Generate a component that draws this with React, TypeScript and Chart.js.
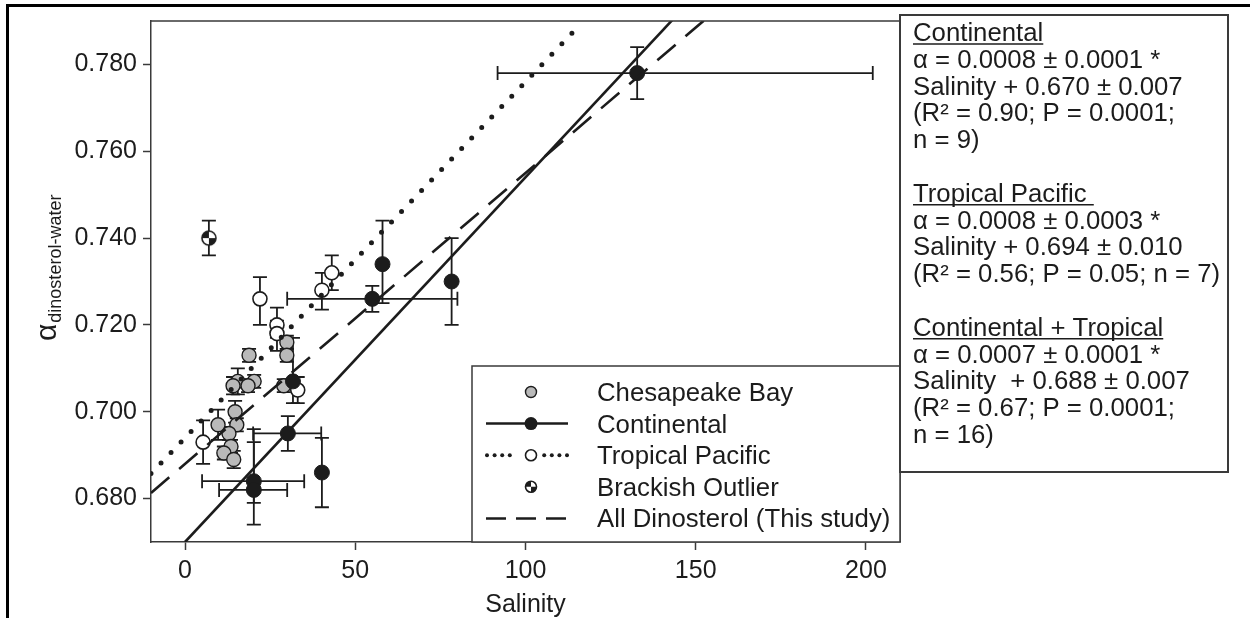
import { useEffect, useRef } from "react";
import { Chart, registerables } from "chart.js";

Chart.register(...registerables);

const FONT = '"Liberation Sans", Arial, Helvetica, sans-serif';
const INK = "#1c1c1c";
const FRAME = "#3a3a3a";
const GRAY = "#b9b9b9";
const TEXT_STRETCH = 1.03;

// Axis ranges and ticks
const salinityMin = -10;
const salinityMax = 210;
const alphaMin = 0.67;
const alphaMax = 0.79;
const salinityTicks = [0, 50, 100, 150, 200];
const alphaTicks = [0.68, 0.7, 0.72, 0.74, 0.76, 0.78];
const alphaTickLabels = ["0.680", "0.700", "0.720", "0.740", "0.760", "0.780"];

// Chesapeake Bay samples
const chesapeakeSalinity = [18.8, 29.9, 29.9, 15.5, 20.3, 14.1, 18.5, 29.0, 14.7, 9.7, 15.2, 12.9, 13.5, 11.4, 14.3];
const chesapeakeAlpha = [0.713, 0.716, 0.713, 0.707, 0.707, 0.706, 0.706, 0.706, 0.7, 0.697, 0.697, 0.695, 0.692, 0.6905, 0.689];
const chesapeakeAlphaErr = [0.0015, 0.0015, 0.0015, 0.003, 0.0015, 0.002, 0.0015, 0.0015, 0.0025, 0.0035, 0.0015, 0.0015, 0.0015, 0.0015, 0.002];

// Continental lakes
const continentalSalinity = [132.8, 58, 78.3, 55, 31.7, 30.2, 20.2, 20.2, 40.2];
const continentalAlpha = [0.778, 0.734, 0.73, 0.726, 0.707, 0.695, 0.684, 0.682, 0.686];
const continentalAlphaLow = [0.772, 0.725, 0.72, 0.723, 0.702, 0.691, 0.674, 0.679, 0.678];
const continentalAlphaHigh = [0.784, 0.744, 0.74, 0.729, 0.717, 0.699, 0.696, 0.693, 0.694];
const continentalSalinityLow = [91.8, null, null, 30, null, 20, 5, 10, null];
const continentalSalinityHigh = [202, null, null, 80, null, 40, 35, 30, null];

// Tropical Pacific
const tropicalSalinity = [43.1, 40.2, 22, 27, 27, 33.1, 5.3];
const tropicalAlpha = [0.732, 0.728, 0.726, 0.72, 0.718, 0.705, 0.693];
const tropicalAlphaLow = [0.728, 0.7235, 0.72, 0.717, 0.714, 0.702, 0.688];
const tropicalAlphaHigh = [0.736, 0.732, 0.731, 0.724, 0.721, 0.708, 0.698];

// Brackish outlier
const brackishSalinity = [7];
const brackishAlpha = [0.74];
const brackishAlphaLow = [0.736];
const brackishAlphaHigh = [0.744];

// Regression fits: slope, intercept, drawn salinity extent
const continentalFit = [0.00084, 0.67];
const continentalExtent = [0, 150];
const tropicalFit = [0.00082, 0.694];
const tropicalExtent = [-10, 114.5];
const allFit = [0.00067, 0.688];
const allExtent = [-10, 160];

// Legend and statistics text
const legendLabels = ["Chesapeake Bay", "Continental", "Tropical Pacific", "Brackish Outlier", "All Dinosterol (This study)"];
const statHeaders = ["Continental", "Tropical Pacific ", "Continental + Tropical"];
const statBodies = [
  ["α = 0.0008 ± 0.0001 *", "Salinity + 0.670 ± 0.007", "(R² = 0.90; P = 0.0001;", "n = 9)"],
  ["α = 0.0008 ± 0.0003 *", "Salinity + 0.694 ± 0.010", "(R² = 0.56; P = 0.05; n = 7)"],
  ["α = 0.0007 ± 0.0001 *", "Salinity  + 0.688 ± 0.007", "(R² = 0.67; P = 0.0001;", "n = 16)"],
];
const statBlockStartRows = [0, 6, 11];

const zip = (xs: number[], ys: number[]) => xs.map((x, i) => ({ x, y: ys[i] }));
const fitLine = (fit: number[], ext: number[]) => ext.map((s) => ({ x: s, y: fit[1] + fit[0] * s }));

function stretchedText(g: CanvasRenderingContext2D, t: string, x: number, y: number) {
  g.save();
  g.translate(x, y);
  g.scale(TEXT_STRETCH, 1);
  g.fillText(t, 0, 0);
  g.restore();
  return g.measureText(t).width * TEXT_STRETCH;
}

function drawQuarterMarker(g: CanvasRenderingContext2D, cx: number, cy: number, r: number) {
  g.save();
  g.fillStyle = "#fff";
  g.beginPath();
  g.arc(cx, cy, r, 0, Math.PI * 2);
  g.fill();
  g.fillStyle = INK;
  g.beginPath();
  g.moveTo(cx, cy);
  g.arc(cx, cy, r, Math.PI, Math.PI * 1.5);
  g.closePath();
  g.fill();
  g.beginPath();
  g.moveTo(cx, cy);
  g.arc(cx, cy, r, 0, Math.PI * 0.5);
  g.closePath();
  g.fill();
  g.strokeStyle = INK;
  g.lineWidth = 1.6;
  g.beginPath();
  g.arc(cx, cy, r, 0, Math.PI * 2);
  g.stroke();
  g.restore();
}

function makeQuarterMarker(r: number) {
  const size = Math.ceil(r * 2 + 4);
  const c = document.createElement("canvas");
  c.width = size;
  c.height = size;
  const g = c.getContext("2d")!;
  drawQuarterMarker(g, size / 2, size / 2, r);
  return c;
}

const errorBarPlugin = {
  id: "errorBars",
  beforeDatasetsDraw(chart: any) {
    const { ctx, chartArea, scales } = chart;
    const xs = scales.x;
    const ys = scales.y;
    const cap = 7;
    ctx.save();
    ctx.beginPath();
    ctx.rect(chartArea.left, chartArea.top, chartArea.right - chartArea.left, chartArea.bottom - chartArea.top);
    ctx.clip();
    ctx.strokeStyle = INK;
    ctx.lineWidth = 1.8;
    const vbar = (s: number, lo: number, hi: number) => {
      const px = xs.getPixelForValue(s);
      const y1 = ys.getPixelForValue(lo);
      const y2 = ys.getPixelForValue(hi);
      ctx.beginPath();
      ctx.moveTo(px, y1);
      ctx.lineTo(px, y2);
      ctx.moveTo(px - cap, y1);
      ctx.lineTo(px + cap, y1);
      ctx.moveTo(px - cap, y2);
      ctx.lineTo(px + cap, y2);
      ctx.stroke();
    };
    const hbar = (a: number, lo: number, hi: number) => {
      const py = ys.getPixelForValue(a);
      const x1 = xs.getPixelForValue(lo);
      const x2 = xs.getPixelForValue(hi);
      ctx.beginPath();
      ctx.moveTo(x1, py);
      ctx.lineTo(x2, py);
      ctx.moveTo(x1, py - cap);
      ctx.lineTo(x1, py + cap);
      ctx.moveTo(x2, py - cap);
      ctx.lineTo(x2, py + cap);
      ctx.stroke();
    };
    chesapeakeSalinity.forEach((s, i) =>
      vbar(s, chesapeakeAlpha[i] - chesapeakeAlphaErr[i], chesapeakeAlpha[i] + chesapeakeAlphaErr[i])
    );
    tropicalSalinity.forEach((s, i) => vbar(s, tropicalAlphaLow[i], tropicalAlphaHigh[i]));
    brackishSalinity.forEach((s, i) => vbar(s, brackishAlphaLow[i], brackishAlphaHigh[i]));
    continentalSalinity.forEach((s, i) => {
      vbar(s, continentalAlphaLow[i], continentalAlphaHigh[i]);
      const lo = continentalSalinityLow[i];
      const hi = continentalSalinityHigh[i];
      if (lo != null && hi != null) hbar(continentalAlpha[i], lo, hi);
    });
    ctx.restore();
  },
};

const decorPlugin = {
  id: "decor",
  afterDraw(chart: any) {
    const { ctx, chartArea } = chart;
    const { left, right, top, bottom } = chartArea;
    ctx.save();

    // plot frame top and right edges
    ctx.strokeStyle = FRAME;
    ctx.lineWidth = 1.5;
    ctx.beginPath();
    ctx.moveTo(left, top);
    ctx.lineTo(right, top);
    ctx.lineTo(right, bottom);
    ctx.stroke();

    // legend box
    const lx = 472;
    const ly = 366;
    ctx.fillStyle = "#fff";
    ctx.fillRect(lx, ly, right - lx, bottom - ly);
    ctx.strokeRect(lx, ly, right - lx, bottom - ly);
    const rowY = (i: number) => 392 + i * 31.6;
    const sx1 = 486;
    const sx2 = 568;
    const mx = 531;
    ctx.fillStyle = INK;
    ctx.font = `25px ${FONT}`;
    ctx.textBaseline = "alphabetic";
    legendLabels.forEach((t, i) => stretchedText(ctx, t, 597, rowY(i) + 9));

    // Chesapeake sample
    ctx.beginPath();
    ctx.arc(mx, rowY(0), 5.5, 0, Math.PI * 2);
    ctx.fillStyle = GRAY;
    ctx.fill();
    ctx.strokeStyle = INK;
    ctx.lineWidth = 1.4;
    ctx.stroke();
    // Continental sample
    ctx.lineWidth = 2.5;
    ctx.beginPath();
    ctx.moveTo(sx1, rowY(1));
    ctx.lineTo(sx2, rowY(1));
    ctx.stroke();
    ctx.beginPath();
    ctx.arc(mx, rowY(1), 6.5, 0, Math.PI * 2);
    ctx.fillStyle = INK;
    ctx.fill();
    // Tropical sample
    ctx.fillStyle = INK;
    for (const dx of [0, 7.6, 15.2, 22.8, 57.2, 64.8, 72.4, 80]) {
      ctx.beginPath();
      ctx.arc(sx1 + 1 + dx, rowY(2), 2, 0, Math.PI * 2);
      ctx.fill();
    }
    ctx.beginPath();
    ctx.arc(mx, rowY(2), 5.5, 0, Math.PI * 2);
    ctx.fillStyle = "#fff";
    ctx.fill();
    ctx.lineWidth = 1.6;
    ctx.stroke();
    // Brackish sample
    drawQuarterMarker(ctx, mx, rowY(3), 5.5);
    // All dinosterol sample
    ctx.strokeStyle = INK;
    ctx.lineWidth = 2.5;
    ctx.setLineDash([20, 10]);
    ctx.beginPath();
    ctx.moveTo(sx1, rowY(4));
    ctx.lineTo(sx2, rowY(4));
    ctx.stroke();
    ctx.setLineDash([]);

    // statistics box
    ctx.strokeStyle = FRAME;
    ctx.lineWidth = 2;
    ctx.strokeRect(right, 15, 1228 - right, 472 - 15);
    ctx.fillStyle = INK;
    ctx.font = `25px ${FONT}`;
    const tx = 913;
    const lineY = (row: number) => 32 + row * 26.8 + 9;
    statHeaders.forEach((h, b) => {
      const r0 = statBlockStartRows[b];
      const by = lineY(r0);
      const w = stretchedText(ctx, h, tx, by);
      ctx.lineWidth = 1.5;
      ctx.strokeStyle = INK;
      ctx.beginPath();
      ctx.moveTo(tx, by + 3);
      ctx.lineTo(tx + w, by + 3);
      ctx.stroke();
      statBodies[b].forEach((t, k) => stretchedText(ctx, t, tx, lineY(r0 + 1 + k)));
    });

    // axis titles
    ctx.textAlign = "center";
    ctx.fillText("Salinity", (left + right) / 2, 612);
    ctx.textAlign = "left";
    ctx.translate(56, 341);
    ctx.rotate(-Math.PI / 2);
    ctx.font = `30px ${FONT}`;
    ctx.fillText("α", 0, 0);
    const aw = ctx.measureText("α").width;
    ctx.font = `18px ${FONT}`;
    ctx.fillText("dinosterol-water", aw + 1, 5);
    ctx.restore();
  },
};

export default function App() {
  const canvasRef = useRef<HTMLCanvasElement>(null);

  useEffect(() => {
    document.body.style.margin = "0";
    const canvas = canvasRef.current!;
    const quarter = makeQuarterMarker(7);

    const chart = new Chart(canvas, {
      type: "scatter",
      data: {
        datasets: [
          {
            type: "line",
            label: "Continental fit",
            data: fitLine(continentalFit, continentalExtent),
            borderColor: INK,
            borderWidth: 2.6,
            pointRadius: 0,
            fill: false,
          },
          {
            type: "line",
            label: "Tropical fit",
            data: fitLine(tropicalFit, tropicalExtent),
            borderColor: INK,
            borderWidth: 5,
            borderDash: [0, 14.5],
            borderCapStyle: "round",
            pointRadius: 0,
            fill: false,
          },
          {
            type: "line",
            label: "All fit",
            data: fitLine(allFit, allExtent),
            borderColor: INK,
            borderWidth: 2.6,
            borderDash: [24, 13],
            pointRadius: 0,
            fill: false,
          },
          {
            label: "Brackish Outlier",
            data: zip(brackishSalinity, brackishAlpha),
            pointStyle: quarter,
            pointRadius: 7,
          },
          {
            label: "Continental",
            data: zip(continentalSalinity, continentalAlpha),
            pointRadius: 7.5,
            backgroundColor: INK,
            borderColor: INK,
            borderWidth: 1,
          },
          {
            label: "Tropical Pacific",
            data: zip(tropicalSalinity, tropicalAlpha),
            pointRadius: 7,
            backgroundColor: "#fff",
            borderColor: INK,
            borderWidth: 1.6,
          },
          {
            label: "Chesapeake Bay",
            data: zip(chesapeakeSalinity, chesapeakeAlpha),
            pointRadius: 7,
            backgroundColor: GRAY,
            borderColor: INK,
            borderWidth: 1.4,
          },
        ] as any,
      },
      options: {
        animation: false,
        responsive: false,
        events: [],
        layout: { padding: { top: 17, right: 350, left: 0, bottom: 0 } },
        plugins: { legend: { display: false }, tooltip: { enabled: false } },
        scales: {
          x: {
            type: "linear",
            min: salinityMin,
            max: salinityMax,
            afterBuildTicks: (s: any) => {
              s.ticks = salinityTicks.map((v) => ({ value: v }));
            },
            afterFit: (s: any) => {
              s.height = 76;
            },
            grid: { drawOnChartArea: false, drawTicks: true, tickLength: 8, tickColor: FRAME, tickWidth: 1.5 },
            border: { display: true, color: FRAME, width: 1.5 },
            ticks: {
              font: { family: FONT, size: 25 },
              color: INK,
              padding: 6,
              maxRotation: 0,
              autoSkip: false,
              callback: (_v: any, i: number) => String(salinityTicks[i]),
            },
          },
          y: {
            type: "linear",
            min: alphaMin,
            max: alphaMax,
            afterBuildTicks: (s: any) => {
              s.ticks = alphaTicks.map((v) => ({ value: v }));
            },
            afterFit: (s: any) => {
              s.width = 151;
            },
            grid: { drawOnChartArea: false, drawTicks: true, tickLength: 8, tickColor: FRAME, tickWidth: 1.5 },
            border: { display: true, color: FRAME, width: 1.5 },
            ticks: {
              font: { family: FONT, size: 25 },
              color: INK,
              padding: 6,
              autoSkip: false,
              callback: (_v: any, i: number) => alphaTickLabels[i],
            },
          },
        },
      } as any,
      plugins: [errorBarPlugin, decorPlugin],
    });

    return () => chart.destroy();
  }, []);

  return (
    <div style={{ position: "relative", width: 1250, height: 618, background: "#fff", overflow: "hidden" }}>
      <canvas ref={canvasRef} width={1250} height={618} style={{ display: "block" }} />
      <div
        style={{
          position: "absolute",
          left: 6,
          top: 4,
          right: 0,
          bottom: 0,
          borderTop: "3px solid #000",
          borderLeft: "3px solid #000",
          pointerEvents: "none",
        }}
      />
    </div>
  );
}
